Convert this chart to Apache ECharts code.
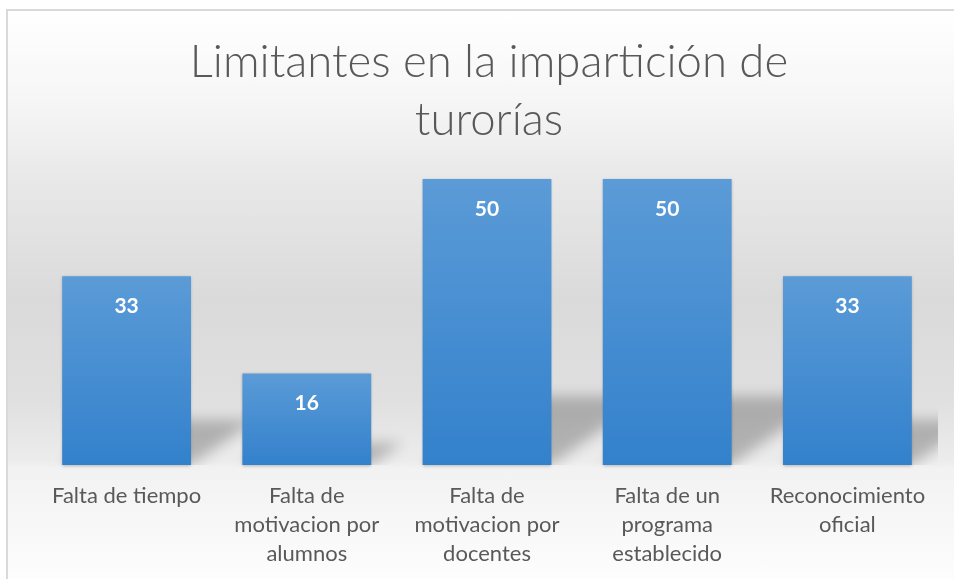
<!DOCTYPE html>
<html>
<head>
<meta charset="utf-8">
<script src="https://cdn.jsdelivr.net/npm/echarts@6/dist/echarts.min.js"></script>
<style>
  html, body { margin: 0; padding: 0; background: #ffffff; }
  #frame {
    position: absolute; left: 6px; top: 9px; width: 960px; height: 580px;
    border-left: 2px solid #d9d9d9; border-top: 2px solid #d9d9d9;
    background: linear-gradient(to bottom,
      #ffffff 0px, #f6f6f6 90px, #e8e8e8 170px, #dadada 290px,
      #e0e0e0 390px, #ececec 450px, #f2f2f2 458px, #fdfdfd 570px);
  }
  #main { position: absolute; left: 0; top: 0; width: 954px; height: 579px; }
</style>
</head>
<body>
<div id="frame"></div>
<div id="main"></div>
<script>
const titleText = "Limitantes en la impartición de\nturorías";
const categories = [
  "Falta de tiempo",
  "Falta de\nmotivacion por\nalumnos",
  "Falta de\nmotivacion por\ndocentes",
  "Falta de un\nprograma\nestablecido",
  "Reconocimiento\noficial"
];
const values = [33, 16, 50, 50, 33];

const myChart = echarts.init(document.getElementById("main"));

// perspective shadow behind each bar (shape drawn off to the left, only its blurred shadow lands here)
const OFF = 2000;
function renderShadow(params, api) {
  const i = api.value(0);
  const v = api.value(1);
  const base = api.coord([i, 0]);
  const top = api.coord([i, v]);
  const half = api.size([1, 0])[0] * 0.715 / 2;
  const h = base[1] - top[1];
  const H = h * 0.24;
  const s = h * 0.34;
  const x0 = base[0] - half - OFF, x1 = base[0] + half - OFF, y0 = base[1];
  return {
    type: "polygon",
    shape: { points: [[x0, y0], [x1, y0], [x1 + s, y0 - H], [x0 + s, y0 - H]] },
    style: {
      fill: "#000",
      shadowBlur: 14,
      shadowOffsetX: OFF,
      shadowColor: "rgba(0,0,0,0.24)"
    }
  };
}

const option = {
  backgroundColor: "transparent",
  title: {
    text: titleText,
    left: 484,
    top: 28,
    textAlign: "center",
    textStyle: {
      fontFamily: "Lato",
      fontWeight: 300,
      fontSize: 45.5,
      lineHeight: 58,
      color: "#595959"
    }
  },
  grid: { left: 36.5, right: 16.5, top: 121.8, bottom: 114 },
  xAxis: {
    type: "category",
    data: categories,
    axisLine: { show: false },
    axisTick: { show: false },
    axisLabel: {
      interval: 0,
      margin: 16,
      fontFamily: "Lato",
      fontSize: 22,
      lineHeight: 29,
      color: "#595959"
    }
  },
  yAxis: {
    type: "value",
    min: 0,
    max: 60,
    show: false,
    splitLine: { show: false }
  },
  series: [
    {
      type: "custom",
      z: 1,
      clip: true,
      renderItem: renderShadow,
      data: values.map((v, i) => [i, v]),
      silent: true
    },
    {
      type: "bar",
      z: 2,
      data: values,
      barWidth: "71.5%",
      itemStyle: {
        color: new echarts.graphic.LinearGradient(0, 0, 0, 1, [
          { offset: 0, color: "#5b9bd7" },
          { offset: 1, color: "#3381cc" }
        ]),
        shadowBlur: 3,
        shadowOffsetY: 1,
        shadowColor: "rgba(0,0,0,0.25)"
      },
      label: {
        show: true,
        position: "insideTop",
        distance: 19,
        fontFamily: "Lato",
        fontWeight: "bold",
        fontSize: 21,
        lineHeight: 22,
        color: "#ffffff"
      }
    }
  ]
};
myChart.setOption(option);
</script>
</body>
</html>
